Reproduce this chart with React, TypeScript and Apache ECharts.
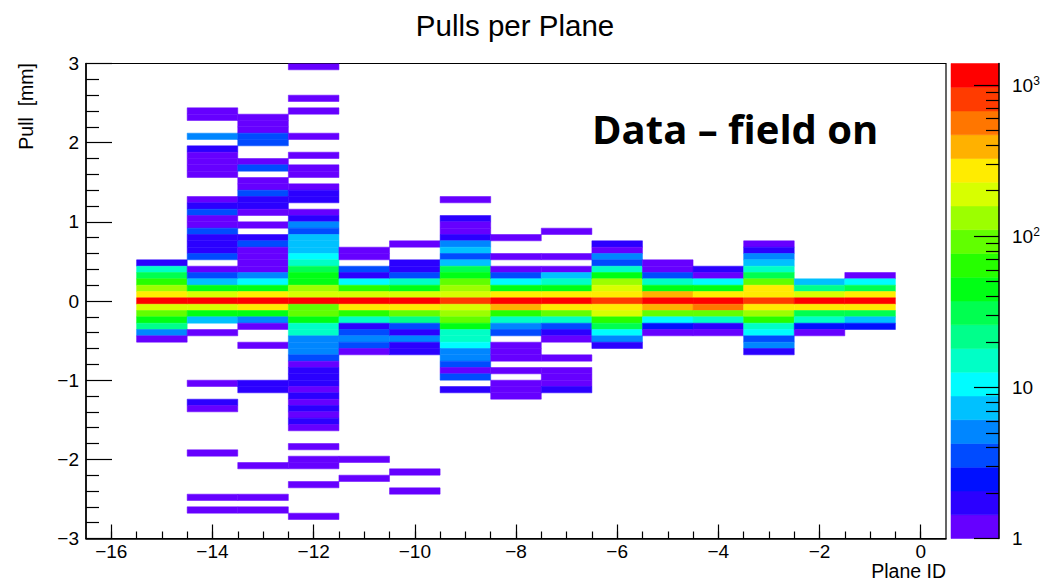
import React, { useEffect, useRef } from 'react';
import * as echarts from 'echarts';

// ---------------- data ----------------
const planes = [-15, -14, -13, -12, -11, -10, -9, -8, -7, -6, -5, -4, -3, -2, -1];

// [pull (bin centre, mm), entries]
const pullsM15: [number, number][] = [[0.48,2],[0.40,15],[0.32,31],[0.24,64],[0.16,132],[0.08,273],[0.00,1160],[-0.08,190],[-0.16,92],[-0.24,45],[-0.32,22],[-0.40,5],[-0.48,1]];
const pullsM14: [number, number][] = [[2.40,1],[2.32,1],[2.08,5],[1.92,2],[1.84,1],[1.76,1],[1.68,1],[1.60,1],[1.28,1],[1.20,2],[1.12,3.5],[1.04,1],[0.96,1],[0.88,3.5],[0.80,2],[0.72,2],[0.64,2],[0.56,3.5],[0.40,1],[0.32,3.5],[0.24,7],[0.16,45],[0.08,190],[0.00,1160],[-0.08,190],[-0.16,45],[-0.24,7],[-0.40,1],[-1.04,1],[-1.28,2],[-1.36,1],[-1.92,1],[-2.48,1],[-2.64,1]];
const pullsM13: [number, number][] = [[2.32,1],[2.24,1],[2.16,1],[2.08,3.5],[2.00,3.5],[1.76,1],[1.68,3.5],[1.52,1],[1.44,1],[1.36,3.5],[1.28,2],[1.20,2],[1.12,1],[0.96,1],[0.80,2],[0.72,3.5],[0.64,1],[0.56,1],[0.48,1],[0.40,1],[0.32,5],[0.24,10],[0.16,45],[0.08,273],[0.00,1160],[-0.08,273],[-0.16,45],[-0.24,5],[-0.32,1],[-0.56,1],[-1.04,2],[-1.12,2],[-2.08,1],[-2.48,1],[-2.64,1]];
const pullsM12: [number, number][] = [[2.96,1],[2.56,1],[2.40,1],[2.08,1],[1.84,1],[1.68,1],[1.60,1],[1.44,1],[1.36,2],[1.28,2],[1.12,1],[1.04,2],[0.96,5],[0.88,3.5],[0.80,7],[0.72,7],[0.64,7],[0.56,10],[0.48,15],[0.40,31],[0.32,45],[0.24,45],[0.16,132],[0.08,190],[0.00,1160],[-0.08,92],[-0.16,92],[-0.24,45],[-0.32,15],[-0.40,15],[-0.48,5],[-0.56,5],[-0.64,5],[-0.72,3.5],[-0.80,1],[-0.88,2],[-0.96,2],[-1.04,2],[-1.12,1],[-1.20,2],[-1.28,1],[-1.36,2],[-1.44,1],[-1.52,2],[-1.60,1],[-1.84,1],[-2.00,1],[-2.08,1],[-2.32,1],[-2.72,1]];
const pullsM11: [number, number][] = [[0.64,1],[0.56,1],[0.40,3.5],[0.32,2],[0.24,10],[0.16,64],[0.08,190],[0.00,1160],[-0.08,273],[-0.16,64],[-0.24,15],[-0.32,2],[-0.40,3.5],[-0.48,5],[-0.56,3.5],[-0.64,1],[-2.00,1],[-2.24,1]];
const pullsM10: [number, number][] = [[0.72,1],[0.48,2],[0.40,2],[0.32,3.5],[0.24,15],[0.16,45],[0.08,190],[0.00,1160],[-0.08,273],[-0.16,92],[-0.24,22],[-0.32,3.5],[-0.40,2],[-0.48,5],[-0.56,2],[-0.64,2],[-2.16,1],[-2.40,1]];
const pullsM9: [number, number][] = [[1.28,1],[1.04,2],[0.96,1],[0.88,1],[0.80,2],[0.72,5],[0.64,7],[0.56,3.5],[0.48,7],[0.40,31],[0.32,45],[0.24,92],[0.16,132],[0.08,190],[0.00,807],[-0.08,190],[-0.16,132],[-0.24,92],[-0.32,45],[-0.40,15],[-0.48,15],[-0.56,10],[-0.64,5],[-0.72,5],[-0.80,3.5],[-0.88,1],[-0.96,3.5],[-1.12,2]];
const pullsM8: [number, number][] = [[0.80,1],[0.56,1],[0.40,1],[0.32,3.5],[0.24,10],[0.16,45],[0.08,273],[0.00,1160],[-0.08,392],[-0.16,64],[-0.24,15],[-0.32,5],[-0.40,3.5],[-0.56,1],[-0.64,1],[-0.72,1],[-0.88,1],[-1.04,1],[-1.12,1],[-1.20,1]];
const pullsM7: [number, number][] = [[0.88,1],[0.56,1],[0.40,1],[0.32,7],[0.24,15],[0.16,45],[0.08,273],[0.00,1160],[-0.08,273],[-0.16,92],[-0.24,15],[-0.32,3.5],[-0.40,2],[-0.48,1],[-0.72,1],[-0.88,1],[-0.96,1],[-1.04,1],[-1.12,2]];
const pullsM6: [number, number][] = [[0.72,2],[0.64,1],[0.56,5],[0.48,3.5],[0.40,15],[0.32,45],[0.24,132],[0.16,190],[0.08,273],[0.00,807],[-0.08,273],[-0.16,190],[-0.24,64],[-0.32,31],[-0.40,10],[-0.48,5],[-0.56,2]];
const pullsM5: [number, number][] = [[0.48,1],[0.40,1],[0.32,3.5],[0.24,15],[0.16,45],[0.08,392],[0.00,1160],[-0.08,392],[-0.16,92],[-0.24,10],[-0.32,2.5],[-0.40,1]];
const pullsM4: [number, number][] = [[0.40,2],[0.32,1],[0.24,10],[0.16,45],[0.08,273],[0.00,1160],[-0.08,562],[-0.16,92],[-0.24,15],[-0.32,2],[-0.40,1]];
const pullsM3: [number, number][] = [[0.72,1],[0.64,2],[0.56,5],[0.48,7],[0.40,15],[0.32,31],[0.24,92],[0.16,273],[0.08,273],[0.00,807],[-0.08,273],[-0.16,132],[-0.24,64],[-0.32,15],[-0.40,10],[-0.48,3.5],[-0.56,5],[-0.64,2]];
const pullsM2: [number, number][] = [[0.24,7],[0.16,22],[0.08,190],[0.00,1160],[-0.08,273],[-0.16,31],[-0.24,15],[-0.32,2.5],[-0.40,1]];
const pullsM1: [number, number][] = [[0.32,1],[0.24,10],[0.16,31],[0.08,273],[0.00,1160],[-0.08,273],[-0.16,31],[-0.24,7],[-0.32,2.5]];

const planeBins = [pullsM15, pullsM14, pullsM13, pullsM12, pullsM11, pullsM10, pullsM9, pullsM8, pullsM7, pullsM6, pullsM5, pullsM4, pullsM3, pullsM2, pullsM1];

const xTickLabels = [-16, -14, -12, -10, -8, -6, -4, -2, 0];
const xMinorTicks = [-16, -15.5, -15, -14.5, -14, -13.5, -13, -12.5, -12, -11.5, -11, -10.5, -10, -9.5, -9, -8.5, -8, -7.5, -7, -6.5, -6, -5.5, -5, -4.5, -4, -3.5, -3, -2.5, -2, -1.5, -1, -0.5, 0];
const zMax = 1390; // top of colour scale (entries)
const zDecades = [0, 1, 2, 3]; // log10 of 1, 10, 100, 1000

// ROOT "pretty" palette, 20 contours (violet -> red)
const palette = ['#6600ff','#2b00ff','#0010ff','#004bff','#0086ff','#00c1ff','#00fcff','#00ffc6','#00ff8b','#00ff50','#00ff15','#26ff00','#61ff00','#9cff00','#d7ff00','#ffec00','#ffb100','#ff7600','#ff3b00','#ff0000'];

const BIN_W = 1;
const BIN_H = 0.08;
const FONT = 'Liberation Sans';

export default function App() {
  const ref = useRef<HTMLDivElement>(null);
  useEffect(() => {
    if (!ref.current) return;
    const chart = echarts.init(ref.current, undefined, { renderer: 'svg' });
    const logMax = Math.log10(zMax);
    const step = logMax / palette.length;
    const colorFor = (v: number) => {
      const b = Math.max(0, Math.min(palette.length - 1, Math.floor(Math.log10(v) / step)));
      return palette[b];
    };
    const cells: number[][] = [];
    planes.forEach((p, i) => planeBins[i].forEach(([y, c]) => cells.push([p, y, c])));
    const bandData = palette.map((_, i) => [i]);
    const minorZ: number[] = [];
    zDecades.forEach((d) => {
      for (let m = 2; m <= 9; m++) {
        const v = Math.log10(m) + d;
        if (v <= logMax) minorZ.push(v);
      }
    });
    const minus = (v: number) => String(v).replace('-', '\u2212');
    const black = '#000';

    chart.setOption({
      animation: false,
      backgroundColor: '#fff',
      grid: [
        { left: 86, top: 63.5, width: 860, height: 475, show: true, borderColor: black, borderWidth: 1.2, backgroundColor: 'transparent' },
        { left: 951, top: 63.5, width: 48, height: 475 },
      ],
      xAxis: [
        {
          gridIndex: 0, type: 'value', min: -16.5, max: 0.5, position: 'bottom', z: 5,
          axisLine: { show: true, onZero: false, lineStyle: { color: black, width: 1.5 } },
          axisTick: { show: true, inside: true, length: 14, customValues: xTickLabels, lineStyle: { color: black, width: 1.2 } },
          axisLabel: { show: true, customValues: xTickLabels, formatter: minus, color: black, fontFamily: FONT, fontSize: 19, margin: 3 },
          splitLine: { show: false },
        },
        {
          gridIndex: 0, type: 'value', min: -16.5, max: 0.5, position: 'bottom', z: 5,
          axisLine: { show: false, onZero: false },
          axisTick: { show: true, inside: true, length: 7, customValues: xMinorTicks, lineStyle: { color: black, width: 1.2 } },
          axisLabel: { show: false },
          splitLine: { show: false },
        },
        { gridIndex: 1, type: 'value', min: 0, max: 1, show: false },
      ],
      yAxis: [
        {
          gridIndex: 0, type: 'value', min: -3, max: 3, interval: 1, z: 5,
          axisLine: { show: true, onZero: false, lineStyle: { color: black, width: 1.5 } },
          axisTick: { show: true, inside: true, length: 26, lineStyle: { color: black, width: 1.2 } },
          minorTick: { show: true, splitNumber: 5, length: 13, lineStyle: { color: black, width: 1.2 } },
          axisLabel: { formatter: minus, color: black, fontFamily: FONT, fontSize: 19, margin: 7 },
          splitLine: { show: false },
        },
        {
          gridIndex: 1, type: 'value', min: 0, max: logMax, position: 'right', z: 5,
          axisLine: { show: true, onZero: false, lineStyle: { color: black, width: 1.5 } },
          axisTick: { show: true, inside: true, length: 25, customValues: zDecades, lineStyle: { color: black, width: 1.2 } },
          axisLabel: {
            customValues: zDecades, margin: 13, color: black, fontFamily: FONT, fontSize: 19,
            formatter: (v: number) => (v === 0 ? '1' : v === 1 ? '10' : `{b|10}{e|${v}}`),
            rich: {
              b: { fontFamily: FONT, fontSize: 19, color: black, verticalAlign: 'bottom' },
              e: { fontFamily: FONT, fontSize: 12, color: black, verticalAlign: 'top', padding: [0, 0, 8, 0] },
            },
          },
          splitLine: { show: false },
        },
        {
          gridIndex: 1, type: 'value', min: 0, max: logMax, position: 'right', z: 5,
          axisLine: { show: false, onZero: false },
          axisTick: { show: true, inside: true, length: 13, customValues: minorZ, lineStyle: { color: black, width: 1.2 } },
          axisLabel: { show: false },
          splitLine: { show: false },
        },
      ],
      series: [
        {
          type: 'custom',
          xAxisIndex: 0, yAxisIndex: 0,
          dimensions: ['plane', 'pull', 'entries'],
          encode: { x: 0, y: 1 },
          data: cells,
          clip: true,
          renderItem: (params: any, api: any) => {
            const x = api.value(0), y = api.value(1), c = api.value(2);
            const p0 = api.coord([x - BIN_W / 2, y + BIN_H / 2]);
            const p1 = api.coord([x + BIN_W / 2, y - BIN_H / 2]);
            const col = colorFor(c);
            return {
              type: 'rect',
              shape: { x: p0[0], y: p0[1], width: p1[0] - p0[0], height: p1[1] - p0[1] },
              style: { fill: col, stroke: col, lineWidth: 0.5 },
            };
          },
        },
        {
          type: 'custom',
          xAxisIndex: 2, yAxisIndex: 1,
          data: bandData,
          encode: { y: 0 },
          renderItem: (params: any, api: any) => {
            const i = api.value(0);
            const p0 = api.coord([0, (i + 1) * step]);
            const p1 = api.coord([1, i * step]);
            return {
              type: 'rect',
              shape: { x: p0[0], y: p0[1], width: p1[0] - p0[0], height: p1[1] - p0[1] },
              style: { fill: palette[i], stroke: palette[i], lineWidth: 0.5 },
            };
          },
        },
      ],
      graphic: [
        { type: 'text', x: 515, y: 25, style: { text: 'Pulls per Plane', fontFamily: FONT, fontSize: 29.5, fill: black, align: 'center', verticalAlign: 'middle' } },
        { type: 'text', x: 592, y: 128, style: { text: 'Data \u2013 field on', fontFamily: 'Open Sans', fontWeight: 'bold', fontSize: 40, fill: black, align: 'left', verticalAlign: 'middle' } },
        { type: 'text', x: 946, y: 571, style: { text: 'Plane ID', fontFamily: FONT, fontSize: 19.5, fill: black, align: 'right', verticalAlign: 'middle' } },
        { type: 'text', x: 26, y: 63, rotation: Math.PI / 2, style: { text: 'Pull  [mm]', fontFamily: FONT, fontSize: 19.5, fill: black, align: 'right', verticalAlign: 'middle' } },
      ],
    });
    return () => chart.dispose();
  }, []);
  return <div ref={ref} style={{ position: 'absolute', left: 0, top: 0, width: 1055, height: 582 }} />;
}
